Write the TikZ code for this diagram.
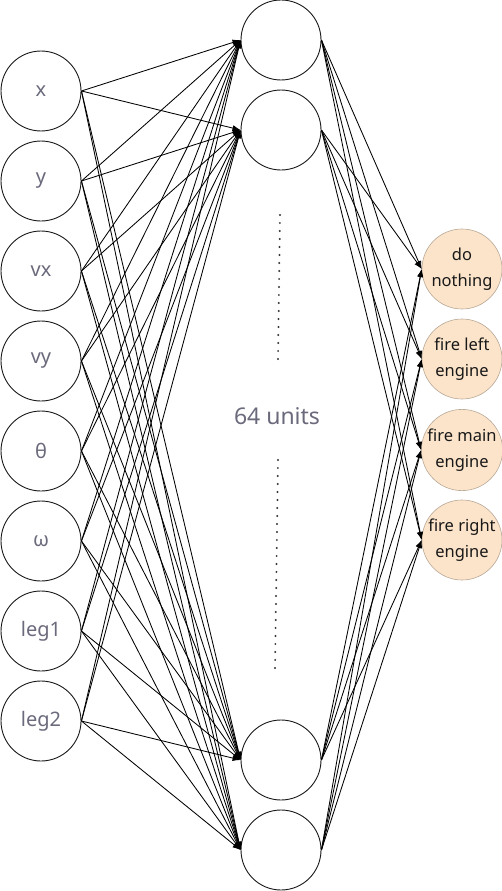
\documentclass[tikz,border=0pt]{standalone}
\usepackage{fontspec}
\setmainfont{Noto Sans}
\usetikzlibrary{arrows.meta}

\definecolor{labelgray}{HTML}{6A6A7C}
\definecolor{actionfill}{HTML}{FCE4CA}
\definecolor{actionline}{HTML}{B8A896}

\begin{document}
\begin{tikzpicture}
  [
    x = 1pt, y = -1pt,
    every node/.style = {circle, inner sep = 0pt, minimum size = 80pt},
    unit/.style = {draw = black!90, line width = 0.9pt},
    feature/.style = {unit, text = labelgray, font = \fontsize{20}{24}\selectfont},
    action/.style = {draw = actionline, fill = actionfill, line width = 0.6pt,
      align = center, text = black!90, font = \fontsize{16.5}{26}\selectfont},
    link/.style = {line width = 0.85pt, -{Latex[length = 8pt, width = 6pt]}},
    ellipsis/.style = {line width = 2.2pt, black!80, line cap = round,
      dash pattern = on 0pt off 8pt}
  ]
  \useasboundingbox (0,0) rectangle (502,891);

  % state inputs
  \node[feature] (x)    at (41,91)  {x};
  \node[feature] (y)    at (41,181) {y};
  \node[feature] (vx)   at (41,271) {vx};
  \node[feature] (vy)   at (41,361) {vy};
  \node[feature] (th)   at (41,451) {θ};
  \node[feature] (om)   at (41,541) {ω};
  \node[feature] (leg1) at (41,631) {leg1};
  \node[feature] (leg2) at (41,721) {leg2};

  % hidden layer
  \node[unit] (H1) at (281,40)  {};
  \node[unit] (H2) at (281,130) {};
  \node[unit] (H3) at (281,760) {};
  \node[unit] (H4) at (281,850) {};
  \node[draw = none, minimum size = 0pt, text = labelgray,
    font = \fontsize{23}{28}\selectfont] (units) at (277,416) {64 units};
  \coordinate (dotA) at (280,215);
  \coordinate (dotB) at (278,359);
  \coordinate (dotC) at (278,460);
  \coordinate (dotD) at (275,670);
  \draw[ellipsis] (dotA) -- (dotB);
  \draw[ellipsis] (dotC) -- (dotD);

  % actions
  \node[action] (O1) at (462,269) {do\\nothing};
  \node[action] (O2) at (462,359) {fire left\\engine};
  \node[action] (O3) at (462,450) {fire main\\engine};
  \node[action] (O4) at (462,540) {fire right\\engine};

  \foreach \i in {x, y, vx, vy, th, om, leg1, leg2}
    \foreach \h in {H1, H2, H3, H4}
      \draw[link] (\i.east) -- (\h.west);
  \foreach \h in {H1, H2, H3, H4}
    \foreach \o in {O1, O2, O3, O4}
      \draw[link] (\h.east) -- (\o.west);
\end{tikzpicture}
\end{document}
